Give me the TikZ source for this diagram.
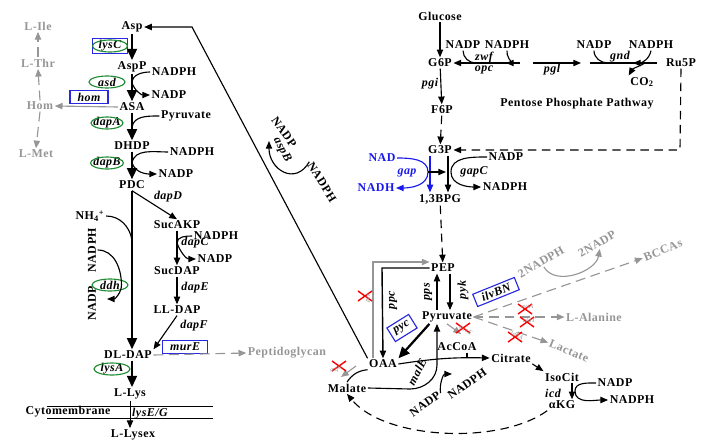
\documentclass[tikz,border=0pt]{standalone}
\usepackage{fontspec}
\setmainfont{Liberation Serif}[LetterSpace=4]
\usetikzlibrary{arrows.meta,shapes.geometric,positioning,calc}

\definecolor{grn}{RGB}{30,140,50}
\definecolor{blu}{RGB}{40,40,225}
\definecolor{gry}{RGB}{150,150,150}
\definecolor{nadblu}{RGB}{25,25,235}

\newcommand{\metfont}{\fontsize{8.5}{9}\selectfont\bfseries}
\newcommand{\genfont}{\fontsize{8.5}{9}\selectfont\bfseries\itshape}
\newcommand{\kofont}{\fontsize{4.5}{5}\selectfont\itshape}

\begin{document}
\begin{tikzpicture}[
  x=0.025cm, y=-0.025cm,
  met/.style={font=\metfont, inner sep=1pt},
  grmet/.style={met, text=gry},
  gene/.style={font=\genfont, inner sep=1pt},
  genbox/.style={gene, draw=blu, thick, rectangle, inner sep=1.5pt, minimum height=0.33cm},
  kolab/.style={font=\kofont, text=gry, inner sep=0pt},
  arr/.style={-{Triangle[length=5.5pt,width=4.5pt]}, line width=0.8pt},
  bigarr/.style={-{Triangle[length=8pt,width=7pt]}, line width=1.6pt},
  dsharr/.style={arr, dash pattern=on 6pt off 4pt},
  grarr/.style={arr, gry},
  grdsh/.style={grarr, dash pattern=on 7pt off 4pt},
  ko/.pic={\draw[red, line width=1pt] (-7,-5) -- (7,5) (-7,5) -- (7,-5);}
]
\useasboundingbox (0,0) rectangle (705,441);

% lysine branch
\node[met] (asp) at (132,27) {Asp};
\node[met] (aspp) at (132,67) {AspP};
\node[met] (asa) at (132,107) {ASA};
\node[met] (dhdp) at (132,146) {DHDP};
\node[met] (pdc) at (132,185) {PDC};
\node[met] (sucakp) at (177,225) {SucAKP};
\node[met] (sucdap) at (177,271) {SucDAP};
\node[met] (lldap) at (177,310) {LL-DAP};
\node[met] (dldap) at (128,355) {DL-DAP};
\node[met] (llys) at (130,394) {L-Lys};
\node[met] (lysex) at (133,435) {L-Lysex};

\node[met] (nadph1) at (174,72) {NADPH};
\node[met] (nadp1) at (169,95) {NADP};
\node[met] (pyr1) at (186,116) {Pyruvate};
\node[met] (nadph2) at (192,152) {NADPH};
\node[met] (nadp2) at (176,174) {NADP};
\node[met] (nh4) at (90,216) {NH\textsubscript{4}\textsuperscript{+}};
\node[met] (nadph3) at (216,236) {NADPH};
\node[met] (nadp3) at (215,259) {NADP};
\node[met, rotate=90] (nadph4) at (92,250) {NADPH};
\node[met, rotate=90] (nadp4) at (92,303) {NADP};

\node[genbox, minimum width=0.88cm] (lysC) at (110,46) {lysC};
\node[gene] (asd) at (107,82) {asd};
\node[genbox, minimum width=0.95cm] (hom) at (89,97) {hom};
\node[gene] (dapA) at (107,123) {dapA};
\node[gene] (dapB) at (107,163) {dapB};
\node[gene] (dapD) at (168,197) {dapD};
\node[gene] (dapC) at (195,243) {dapC};
\node[gene] (dapE) at (195,288) {dapE};
\node[gene] (dapF) at (194,326) {dapF};
\node[gene] (ddh) at (110,285) {ddh};
\node[genbox, minimum width=1.12cm] (murE) at (185,347) {murE};
\node[gene] (lysA) at (112,369) {lysA};
\node[gene] (lysEG) at (150,414) {lysE/G};
\foreach \g/\w in {lysC/17.5, asd/18, dapA/16, dapB/16.5, ddh/18, lysA/18}
  \draw[grn, thick] (\g) ellipse [x radius=\w, y radius=6];

\node[grmet] (lile) at (38,26) {L-Ile};
\node[grmet] (lthr) at (38,63) {L-Thr};
\node[grmet] (homs) at (40,106) {Hom};
\node[grmet] (lmet) at (36,154) {L-Met};
\node[grmet] (ptg) at (287,353) {Peptidoglycan};
\node[met] (cyto) at (68,412) {Cytomembrane};

\coordinate (mem1) at (47,406);
\coordinate (mem2) at (213,406);
\coordinate (mem3) at (47,418);
\coordinate (mem4) at (213,418);
\draw (mem1) -- (mem2);
\draw (mem3) -- (mem4);

\draw[bigarr] (asp) -- (aspp);
\draw[bigarr] (aspp) -- (asa);
\draw[bigarr] (asa) -- (dhdp);
\draw[bigarr] (dhdp) -- (pdc);
\draw[bigarr] (pdc.south) -- (pdc.south |- dldap.north);
\draw[bigarr] (dldap.south -| pdc) -- (llys.north -| pdc);
\draw[arr, line width=0.6pt] (llys.south) -- (llys.south |- lysex.north);

\coordinate (c1) at (132,83);
\coordinate (c2) at (132,127);
\coordinate (c3) at (132,163);
\coordinate (c4) at (132,240);
\coordinate (c5) at (177,243);
\coordinate (c6) at (107,299);
\draw[line width=0.8pt] (nadph1.west) to[out=180,in=90] (c1);
\draw[arr] (c1) to[out=-70,in=180] (nadp1.west);
\draw[line width=0.8pt] (pyr1.west) to[out=180,in=80] (c2);
\draw[line width=0.8pt] (nadph2.west) to[out=180,in=80] (c3);
\draw[arr] (c3) to[out=-70,in=180] (nadp2.west);
\draw[line width=0.8pt] (nh4.east) to[out=0,in=100] (c4);
\draw[arr] (nadph4.south) to[out=0,in=90] (ddh.east) to[out=-90,in=0] (c6);
\draw[line width=0.8pt] (nadph3.west) to[out=180,in=90] (c5);
\draw[arr] (c5) to[out=-70,in=180] (nadp3.west);

\draw[arr] (pdc.south) -- (sucakp.north);
\draw[arr, line width=1.1pt] (sucakp) -- (sucdap);
\draw[arr] (sucdap) -- (lldap);
\draw[arr] (lldap.south) -- (dldap.north east);
\draw[grdsh] (dldap.east) -- (ptg.west);

\draw[grarr] (asa.west) -- (homs.east);
\draw[grdsh] (homs.north) -- (lthr.south);
\draw[grdsh] (lthr.north) -- (lile.south);
\draw[grdsh] (homs.south) -- (lmet.north);

% glycolysis and pentose phosphate
\node[met] (glc) at (440,16) {Glucose};
\node[met] (g6p) at (440,63) {G6P};
\node[met] (f6p) at (442,110) {F6P};
\node[met] (g3p) at (440,150) {G3P};
\node[met] (bpg) at (440,199) {1,3BPG};
\node[met] (ru5p) at (681,63) {Ru5P};
\node[met] (ppp) at (577,104) {Pentose Phosphate Pathway};
\node[met] (co2) at (642,82) {CO\textsubscript{2}};
\node[gene] (pgi) at (430,84) {pgi};

\node[met] (nadp5) at (463,45) {NADP};
\node[met] (nadph5) at (507,45) {NADPH};
\node[gene] (zwf) at (484,58) {zwf};
\node[gene] (opc) at (484,70) {opc};
\node[gene] (pgl) at (552,70) {pgl};
\node[met] (nadp6) at (594,45) {NADP};
\node[met] (nadph6) at (651,45) {NADPH};
\node[gene] (gnd) at (620,57) {gnd};

\coordinate (z1) at (520,63);
\coordinate (z2) at (476,63);
\coordinate (z3) at (506,63);
\coordinate (p1) at (533,63);
\coordinate (p2) at (581,63);
\coordinate (n1) at (590,63);
\coordinate (n2) at (657,63);
\coordinate (n3) at (608,63);
\coordinate (n4) at (633,63);
\coordinate (n5) at (645,63);
\coordinate (r1) at (680,150);

\draw[arr] (glc) -- (g6p);
\draw[arr] (g6p) -- (f6p);
\draw[dsharr] (f6p) -- (g3p);
\draw[arr] (z1) -- (g6p.east);
\draw[line width=0.8pt] (nadp5.south) to[out=-90,in=180] (z2);
\draw[arr] (nadph5.south) to[out=-100,in=0] (z3);
\draw[arr] (p1) -- (p2);
\draw[line width=0.8pt] (n1) -- (n2);
\draw[line width=0.8pt] (nadp6.south) to[out=-90,in=180] (n3);
\draw[arr] (nadph6.south) to[out=-100,in=0] (n4);
\draw[arr] (n5) to[out=-150,in=60] (co2.north west);
\draw[dsharr] (ru5p.south) -- (r1) -- (g3p.east);

\node[met, text=nadblu] (nad) at (382,158) {NAD};
\node[met, text=nadblu] (nadh) at (376,188) {NADH};
\node[gene, text=nadblu] (gap) at (407,173) {gap};
\node[met] (nadp7) at (506,157) {NADP};
\node[met] (nadph7) at (505,187) {NADPH};
\node[gene] (gapC) at (474,172) {gapC};
\coordinate (gj) at (428,172);
\coordinate (gk) at (446,172);
\coordinate (gc) at (451,172);
\draw[arr, nadblu] ($(g3p.south)+(-10,0)$) -- ($(bpg.north)+(-10,0)$);
\draw[arr] ($(g3p.south)+(8,0)$) -- ($(bpg.north)+(8,0)$);
\draw[arr, nadblu] (nad.east) to[out=0,in=90] (gj) to[out=-90,in=0] (nadh.east);
\draw[arr] (gj) -- (gk);
\draw[arr] (nadp7.west) to[out=180,in=90] (gc) to[out=-90,in=180] (nadph7.west);

% central carbon
\node[met] (pep) at (443,268) {PEP};
\node[met] (pyr) at (447,317) {Pyruvate};
\node[met] (oaa) at (383,364) {OAA};
\node[met] (mal) at (347,388) {Malate};
\node[met] (accoa) at (457,347) {AcCoA};
\node[met] (cit) at (511,358) {Citrate};
\node[met] (isocit) at (562,377) {IsoCit};
\node[met] (akg) at (562,405) {αKG};
\node[met] (nadp10) at (615,383) {NADP};
\node[met] (nadph10) at (632,400) {NADPH};
\node[gene] (icd) at (553,393) {icd};

\draw[dsharr] (bpg) -- (pep);
\draw[arr] ($(pyr.north)+(-10,0)$) -- ($(pep.south)+(-6,0)$);
\draw[arr] ($(pep.south)+(7,0)$) -- ($(pyr.north)+(3,0)$);
\node[gene, rotate=90] (pps) at (428,292) {pps};
\node[gene, rotate=90] (pyk) at (463,290) {pyk};

\coordinate (q1) at (382,268);
\coordinate (q2) at (373,262);
\draw[arr, line width=1pt] (pep.west) -- (q1) -- (oaa.north);
\draw[grarr] (oaa.north west -| q2) -- (q2) -- (q2 -| pep.west);
\node[gene, rotate=90] (ppc) at (393,300) {ppc};
\pic (kpck) at (365,296) {ko};
\node[kolab, rotate=80] (pck) at (368,298) {pck};

\draw[bigarr] ($(pyr.south west)+(9,0)$) -- (oaa.north east);
\node[genbox, rotate=32, minimum width=0.64cm, minimum height=0.4cm] (pyc) at (402,328) {pyc};

\coordinate (k1) at (192,27);
\draw[arr] (oaa.north west) -- (k1) -- (asp.east);
\node[met, rotate=-55] (nadp8) at (284,132) {NADP};
\node[gene, rotate=-62] (aspB) at (282,150) {aspB};
\node[met, rotate=-58] (nadph8) at (322,182) {NADPH};
\coordinate (k2) at (269,141);
\draw[arr] (nadph8.west) to[out=-120,in=-90,looseness=1.6] (k2);

\coordinate (m1) at (410,389);
\coordinate (m2) at (437,365);
\coordinate (m3) at (452,374);
\draw[arr] (mal.east) -- (m1) to[out=0,in=-90] (m2) -- ($(pyr.south)+(-10,0)$);
\node[gene, rotate=62] (malE) at (417,372) {malE};
\node[met, rotate=35] (nadp9) at (425,404) {NADP};
\node[met, rotate=35] (nadph9) at (467,384) {NADPH};
\draw[arr] (nadp9.east) to[out=100,in=180] (m3);

\coordinate (g9) at (356,366);
\coordinate (g10) at (341,377);
\draw[line width=0.8pt] (mal.north) to[bend left=25] (oaa.south west);
\draw[grarr] (g9) -- (g10);
\pic (kmqo) at (339,366) {ko};
\node[kolab, rotate=20] (mqo) at (336,370) {mqo};

\coordinate (ac1) at (467,358);
\draw[arr] (oaa.east) to[bend left=5] (cit.west);
\draw[line width=0.8pt] (accoa.south -| ac1) -- (ac1);
\coordinate (ac2) at (461,334);
\draw[grarr] (pyr.south) -- (ac2);
\pic (kace) at (463,328) {ko};
\node[kolab, rotate=-30] (aceE) at (466,330) {aceE};

\coordinate (ic) at (572,0);
\coordinate (ic1) at (575,391);
\draw[arr] (cit.south east) -- (isocit.north west);
\draw[arr] (isocit.south -| ic) -- (akg.north -| ic);
\draw[arr] (nadp10.west) to[out=180,in=90] (ic1) to[out=-90,in=180] (nadph10.west);
\draw[dsharr] (akg.south west) .. controls (500,445) and (385,440) .. (mal.south);

% by-product branches
\node[grmet, rotate=22] (bcca) at (663,250) {BCCAs};
\node[grmet] (lala) at (594,317) {L-Alanine};
\node[grmet, rotate=-22] (lac) at (569,351) {Lactate};
\node[grmet, rotate=30] (nadph11) at (541,262) {2NADPH};
\node[grmet, rotate=30] (nadp11) at (597,244) {2NADP};
\draw[grdsh] (pyr.east) -- (bcca.west);
\draw[grdsh] (pyr.east) -- (lala.west);
\draw[grdsh] (pyr.east) -- (lac.west);
\draw[grarr] (nadph11.south) to[out=-60,in=-100] (nadp11.south);
\node[genbox, rotate=22, minimum width=1.12cm] (ilvbn) at (496,292) {ilvBN};
\pic (kavt) at (525,309) {ko};
\node[kolab] (avtA) at (527,306) {avtA};
\pic (kala) at (527,322) {ko};
\node[kolab] (alaT) at (529,320) {alaT};
\pic (kldh) at (515,337) {ko};
\node[kolab, rotate=-25] (ldhA) at (517,335) {ldhA};
\end{tikzpicture}
\end{document}
